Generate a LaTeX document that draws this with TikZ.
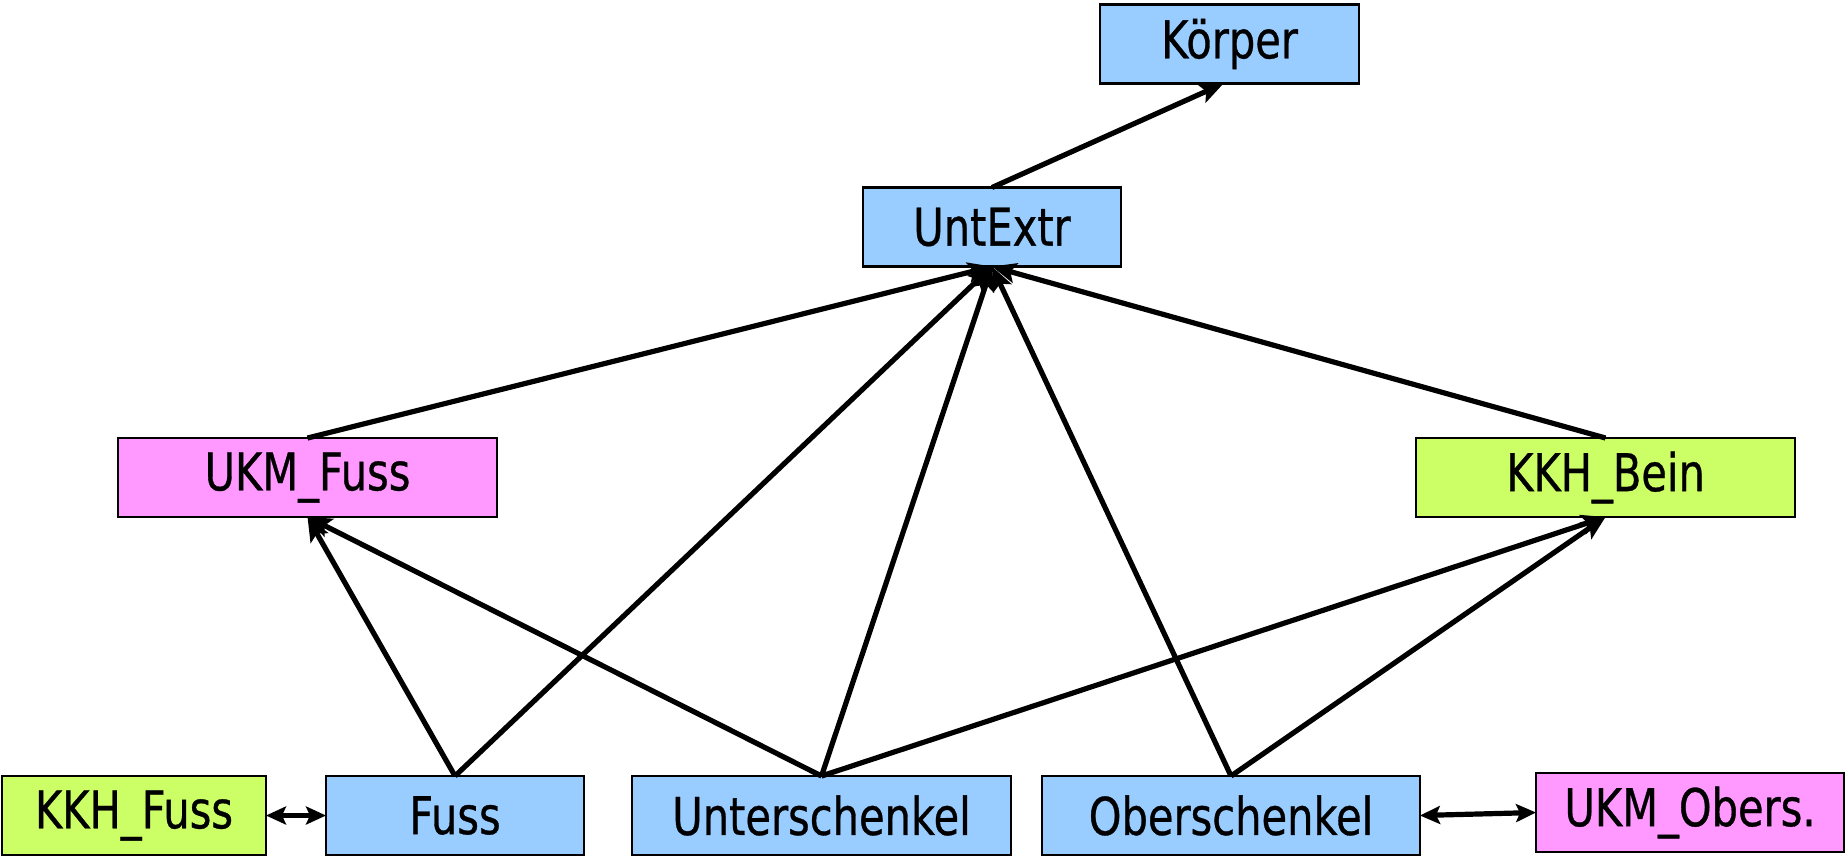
\documentclass[tikz,border=0pt]{standalone}
\usepackage{fontspec}
\setmainfont[FakeStretch=0.8,FakeBold=0.6]{DejaVu Sans}
\usetikzlibrary{arrows.meta}
\definecolor{partblue}{HTML}{99CCFF}
\definecolor{partpink}{HTML}{FF99FF}
\definecolor{partgreen}{HTML}{CCFF66}
\begin{document}
\begin{tikzpicture}[x=0.5pt,y=-0.5pt,
  box/.style={draw=black,line width=1.2pt,inner sep=0pt,outer sep=0pt,
    minimum height=39.5pt,font=\fontsize{26}{30}\selectfont},
  bluebox/.style={box,fill=partblue},
  pinkbox/.style={box,fill=partpink},
  greenbox/.style={box,fill=partgreen},
  link/.style={line width=2.6pt,-{Stealth[length=12pt,width=10pt,inset=2.5pt]}},
  dlink/.style={line width=2.6pt,{Stealth[length=10pt,width=9pt,inset=2pt]}-{Stealth[length=10pt,width=9pt,inset=2pt]}}]
\useasboundingbox (0,0) rectangle (1846,858);
\node[bluebox,minimum width=129.5pt] (koerper) at (1229.5,44) {Körper};
\node[bluebox,minimum width=129pt] (untextr) at (992,227) {UntExtr};
\node[pinkbox,minimum width=189.5pt] (ukmfuss) at (307.5,477.5) {UKM\_Fuss};
\node[greenbox,minimum width=189.5pt] (kkhbein) at (1605.5,477.5) {KKH\_Bein};
\node[greenbox,minimum width=132pt] (kkhfuss) at (134,815.5) {KKH\_Fuss};
\node[bluebox,minimum width=129pt] (fuss) at (455,815.5) {Fuss};
\node[bluebox,minimum width=189.5pt] (unter) at (821.5,815.5) {Unterschenkel};
\node[bluebox,minimum width=189pt] (ober) at (1231,815.5) {Oberschenkel};
\node[pinkbox,minimum width=154pt] (ukmobers) at (1690,812.5) {UKM\_Obers.};
% hierarchy links
\draw[link] (untextr.north) -- ([xshift=-3pt]koerper.south);
\draw[link] (ukmfuss.north) -- (untextr.south);
\draw[link] (kkhbein.north) -- (untextr.south);
\draw[link] (fuss.north) -- (untextr.south);
\draw[link] (unter.north) -- (untextr.south);
\draw[link] (ober.north) -- (untextr.south);
\draw[link] (fuss.north) -- (ukmfuss.south);
\draw[link] (unter.north) -- (ukmfuss.south);
\draw[link] (unter.north) -- (kkhbein.south);
\draw[link] (ober.north) -- (kkhbein.south);
% lateral associations
\draw[dlink] (kkhfuss.east) -- (fuss.west);
\draw[dlink] (ober.east) -- (ukmobers.west);
\end{tikzpicture}
\end{document}
